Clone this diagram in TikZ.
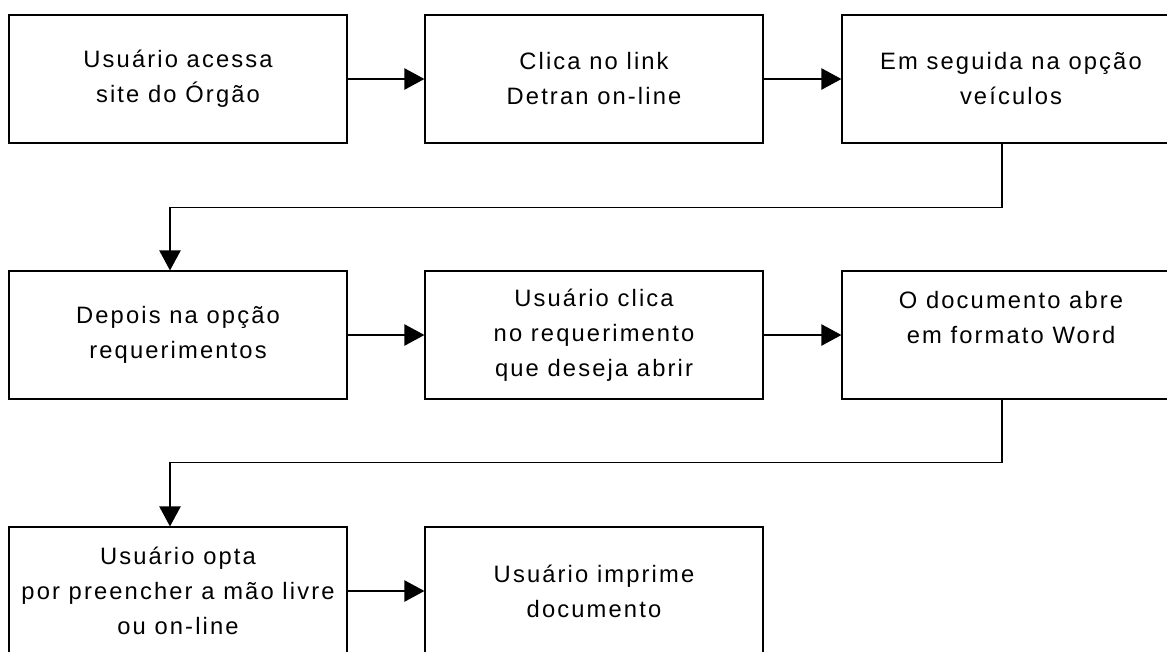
\documentclass[tikz,border=0pt]{standalone}
\usepackage{fontspec}
\setmainfont{Liberation Sans}[LetterSpace=9]
\usetikzlibrary{arrows.meta}
\tikzset{
  caixa/.style={draw, line width=0.9pt, minimum width=253.5pt, minimum height=96pt,
    inner sep=0pt, align=center, font=\fontsize{17.8}{26.25}\selectfont},
  seta/.style={line width=0.9pt, -{Triangle[length=15pt,width=16pt]}}
}
\begin{document}
\begin{tikzpicture}[x=0.75pt,y=0.75pt,yscale=-1,xscale=1]
\useasboundingbox (0,0) rectangle (1167,651);
\node[caixa] (acessa) at (178,79) {Usuário acessa\\site do Órgão};
\node[caixa] (link) at (594,79) {Clica no link\\Detran on-line};
\node[caixa] (veiculos) at (1011,79) {Em seguida na opção\\veículos};
\node[caixa] (reqs) at (178,335) {Depois na opção\\requerimentos};
\node[caixa] (clica) at (594,335) {Usuário clica\\no requerimento\\que deseja abrir};
\node[caixa] (word) at (1011,335) {O documento abre\\em formato Word\\\mbox{}};
\node[caixa] (opta) at (178,591) {Usuário opta\\por preencher a mão livre\\ou on-line};
\node[caixa] (imprime) at (594,591) {Usuário imprime\\documento};
\draw[seta] (acessa) -- (link);
\draw[seta] (link) -- (veiculos);
\draw[seta] ([xshift=-6.75pt]veiculos.south) -- ++(0,64) -| ([xshift=-6pt]reqs.north);
\draw[seta] (reqs) -- (clica);
\draw[seta] (clica) -- (word);
\draw[seta] ([xshift=-6.75pt]word.south) -- ++(0,63) -| ([xshift=-6pt]opta.north);
\draw[seta] (opta) -- (imprime);
\end{tikzpicture}
\end{document}
